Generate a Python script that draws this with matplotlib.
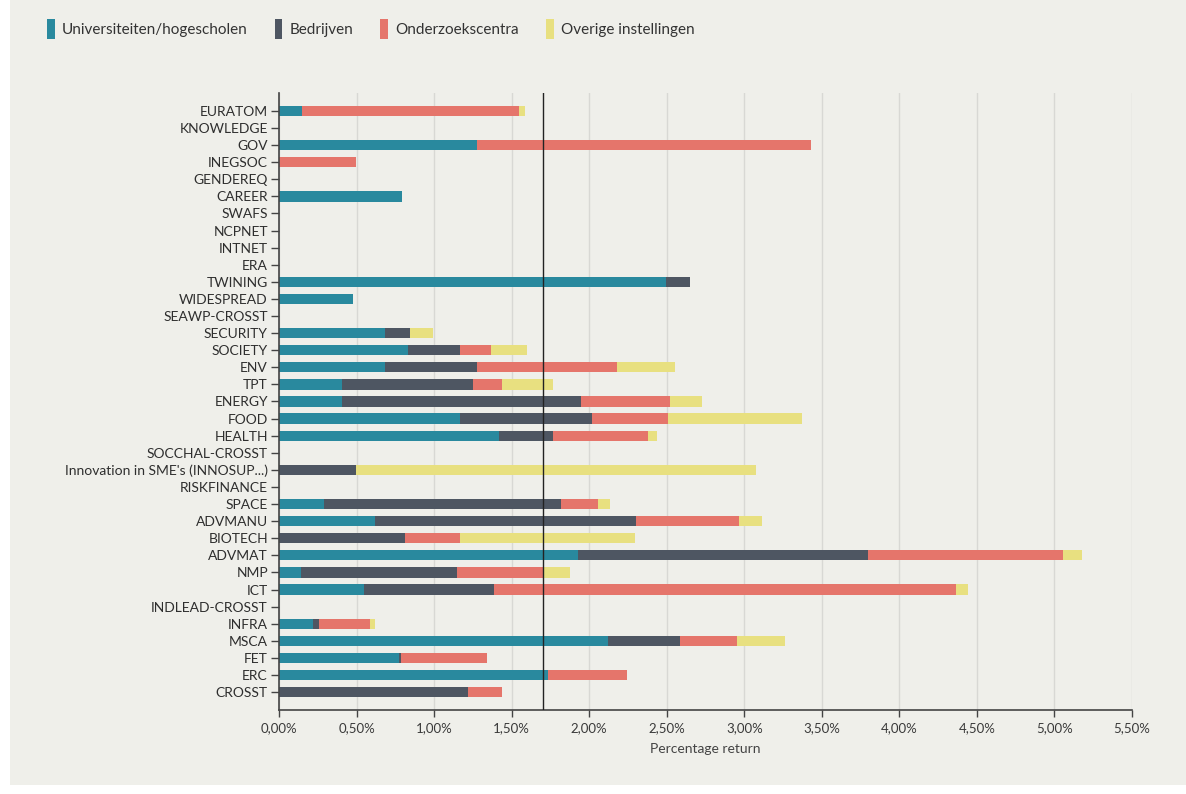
import numpy as np
import matplotlib
matplotlib.use("Agg")
import matplotlib.pyplot as plt
from matplotlib.patches import Rectangle
from matplotlib.ticker import FuncFormatter

plt.rcParams['font.family'] = ['Lato', 'DejaVu Sans']

# categories from top to bottom, values in percent
categories = ["EURATOM", "KNOWLEDGE", "GOV", "INEGSOC", "GENDEREQ", "CAREER", "SWAFS",
              "NCPNET", "INTNET", "ERA", "TWINING", "WIDESPREAD", "SEAWP-CROSST",
              "SECURITY", "SOCIETY", "ENV", "TPT", "ENERGY", "FOOD", "HEALTH",
              "SOCCHAL-CROSST", "Innovation in SME's (INNOSUP...)", "RISKFINANCE",
              "SPACE", "ADVMANU", "BIOTECH", "ADVMAT", "NMP", "ICT", "INDLEAD-CROSST",
              "INFRA", "MSCA", "FET", "ERC", "CROSST"]

universiteiten = [0.146, 0, 1.275, 0, 0, 0.795, 0, 0, 0, 0, 2.495, 0.475, 0,
                  0.685, 0.83, 0.685, 0.406, 0.406, 1.167, 1.42, 0, 0, 0,
                  0.29, 0.62, 0, 1.93, 0.142, 0.548, 0, 0.221, 2.123, 0.772, 1.732, 0]
bedrijven = [0, 0, 0, 0, 0, 0, 0, 0, 0, 0, 0.155, 0, 0,
             0.16, 0.337, 0.59, 0.843, 1.543, 0.849, 0.349, 0, 0.497, 0,
             1.528, 1.685, 0.815, 1.87, 1.004, 0.838, 0, 0.037, 0.462, 0.017, 0, 1.216]
onderzoekscentra = [1.40, 0, 2.157, 0.497, 0, 0, 0, 0, 0, 0, 0, 0, 0,
                    0, 0.20, 0.902, 0.189, 0.571, 0.489, 0.61, 0, 0, 0,
                    0.241, 0.661, 0.352, 1.253, 0.554, 2.979, 0, 0.329, 0.37, 0.55, 0.513, 0.22]
overige = [0.04, 0, 0, 0, 0, 0, 0, 0, 0, 0, 0, 0, 0,
           0.15, 0.23, 0.379, 0.329, 0.205, 0.865, 0.056, 0, 2.578, 0,
           0.078, 0.15, 1.13, 0.124, 0.176, 0.075, 0, 0.032, 0.307, 0, 0, 0]

series_names = ["Universiteiten/hogescholen", "Bedrijven", "Onderzoekscentra", "Overige instellingen"]
colors = ["#29899E", "#4E5662", "#E5756B", "#E8E080"]
reference_line = 1.70

bg = "#EFEFEA"
fig = plt.figure(figsize=(11.86, 7.94), dpi=100, facecolor="white")
fig.patches.append(Rectangle((10 / 1186, 9 / 794), 1, 1, transform=fig.transFigure,
                             facecolor=bg, edgecolor="none", zorder=-10))

ax = fig.add_axes([279 / 1186, 1 - 710 / 794, 853 / 1186, 617 / 794])
ax.set_facecolor(bg)

y = np.arange(len(categories))[::-1]
left = np.zeros(len(categories))
handles = []
for vals, name, col in zip([universiteiten, bedrijven, onderzoekscentra, overige], series_names, colors):
    vals = np.array(vals)
    h = ax.barh(y, vals, left=left, height=0.6, color=col, label=name, zorder=2)
    handles.append(h)
    left += vals

ax.axvline(reference_line, color="#222222", lw=1, zorder=3)

ax.set_xlim(0, 5.5)
ax.set_ylim(-1.05, len(categories) - 1 + 1.05)
ax.set_xticks(np.arange(0, 5.51, 0.5))
ax.xaxis.set_major_formatter(FuncFormatter(lambda v, p: ("%.2f%%" % v).replace(".", ",")))
ax.set_yticks(y)
ax.set_yticklabels(categories)
ax.grid(axis="x", color="#D8D8D4", lw=1, zorder=0)
ax.set_axisbelow(True)

for s in ["top", "right"]:
    ax.spines[s].set_visible(False)
for s in ["left", "bottom"]:
    ax.spines[s].set_color("#444444")
    ax.spines[s].set_linewidth(1.2)
ax.tick_params(axis="y", length=6, width=1, color="#444444", labelsize=10, labelcolor="#2E2E2E", pad=2)
ax.tick_params(axis="x", length=5, width=1, color="#444444", labelsize=9.5, labelcolor="#3A3A3A", pad=4)
ax.set_xlabel("Percentage return", fontsize=10, color="#444444", labelpad=6)

fig.legend(handles=handles, labels=series_names, loc="upper left", bbox_to_anchor=(0.028, 0.993),
           ncol=4, frameon=False, handlelength=0.5, handleheight=1.6, handletextpad=0.45,
           columnspacing=1.8, fontsize=11, labelcolor="#333333")

fig.savefig("out.png", dpi=100, facecolor=fig.get_facecolor())
